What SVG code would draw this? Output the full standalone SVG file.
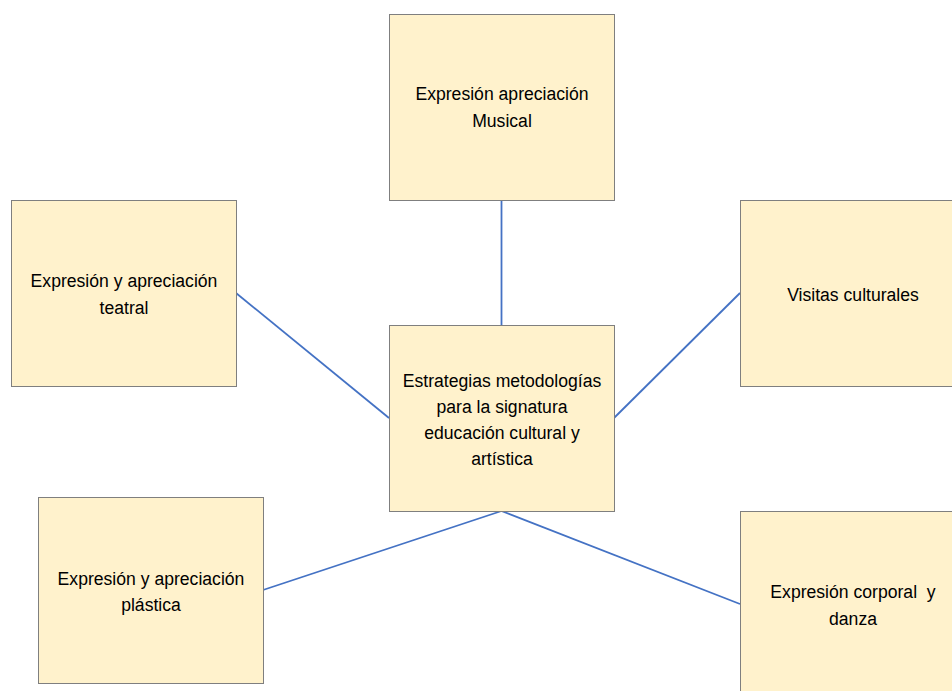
<svg xmlns="http://www.w3.org/2000/svg" width="952" height="691" viewBox="0 0 952 691">
<style>
.box{fill:#FFF2CC;stroke:#7F7F7F;stroke-width:1}
.lbl{font-family:"Liberation Sans",Arial,sans-serif;font-size:17.6px;fill:#000;text-anchor:middle;white-space:pre}
.con{stroke:#4472C4;stroke-width:1.8;fill:none}
</style>
<rect width="952" height="691" fill="#fff"/>
<g id="connectors">
<line class="con" x1="501.5" y1="200" x2="501.5" y2="325"/>
<line class="con" x1="236" y1="293" x2="389" y2="418"/>
<line class="con" x1="740" y1="293" x2="614" y2="418"/>
<line class="con" x1="263" y1="590" x2="501.5" y2="511"/>
<line class="con" x1="501.5" y1="511" x2="740" y2="604"/>
</g>
<g id="musical">
<rect class="box" x="389.5" y="14.5" width="225" height="186"/>
<text class="lbl" x="502" y="100">Expresión apreciación</text>
<text class="lbl" x="502" y="127">Musical</text>
</g>
<g id="teatral">
<rect class="box" x="11.5" y="200.5" width="225" height="186"/>
<text class="lbl" x="124" y="287">Expresión y apreciación</text>
<text class="lbl" x="124" y="314">teatral</text>
</g>
<g id="visitas">
<rect class="box" x="740.5" y="200.5" width="225" height="186"/>
<text class="lbl" x="853" y="301">Visitas culturales</text>
</g>
<g id="centro">
<rect class="box" x="389.5" y="325.5" width="225" height="186"/>
<text class="lbl" x="502" y="387">Estrategias metodologías</text>
<text class="lbl" x="502" y="413">para la signatura</text>
<text class="lbl" x="502" y="439">educación cultural y</text>
<text class="lbl" x="502" y="465">artística</text>
</g>
<g id="plastica">
<rect class="box" x="38.5" y="497.5" width="225" height="186"/>
<text class="lbl" x="151" y="585">Expresión y apreciación</text>
<text class="lbl" x="151" y="611">plástica</text>
</g>
<g id="danza">
<rect class="box" x="740.5" y="511.5" width="225" height="186"/>
<text class="lbl" x="853" y="598" xml:space="preserve">Expresión corporal  y</text>
<text class="lbl" x="853" y="625">danza</text>
</g>
</svg>
